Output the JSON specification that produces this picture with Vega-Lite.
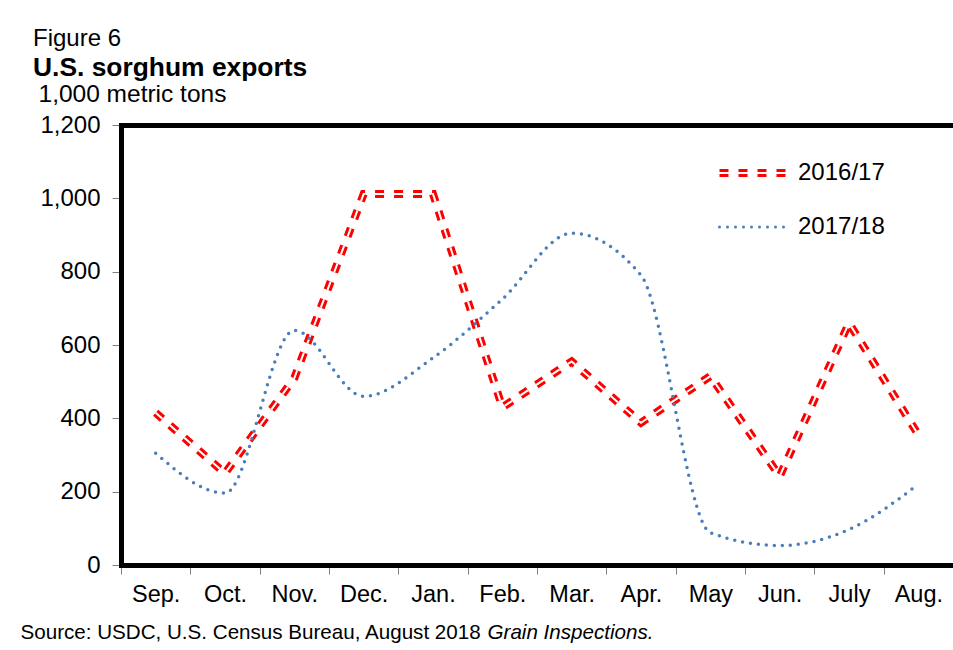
{
  "$schema": "https://vega.github.io/schema/vega-lite/v6.json",
  "width": 832,
  "height": 440,
  "autosize": "none",
  "padding": {"left": 121, "top": 125, "right": 0, "bottom": 85},
  "background": "white",
  "config": {"font": "Liberation Sans", "view": {"stroke": null}},
  "title": {
    "text": "Figure 6",
    "subtitle": "U.S. sorghum exports",
    "anchor": "start",
    "frame": "group",
    "dx": -88,
    "font": "Liberation Sans",
    "fontSize": 24,
    "fontWeight": "normal",
    "color": "black",
    "subtitleFont": "Liberation Sans",
    "subtitleFontSize": 26.4,
    "subtitleFontWeight": "bold",
    "subtitleColor": "black",
    "subtitlePadding": 4,
    "offset": 0
  },
  "data": {
    "values": [
      {"month": "Sep.", "series": "2016/17", "value": 415},
      {"month": "Oct.", "series": "2016/17", "value": 250},
      {"month": "Nov.", "series": "2016/17", "value": 510},
      {"month": "Dec.", "series": "2016/17", "value": 1012},
      {"month": "Jan.", "series": "2016/17", "value": 1012},
      {"month": "Feb.", "series": "2016/17", "value": 430},
      {"month": "Mar.", "series": "2016/17", "value": 555},
      {"month": "Apr.", "series": "2016/17", "value": 388},
      {"month": "May", "series": "2016/17", "value": 515},
      {"month": "Jun.", "series": "2016/17", "value": 242},
      {"month": "July", "series": "2016/17", "value": 660},
      {"month": "Aug.", "series": "2016/17", "value": 355},
      {"month": "Sep.", "series": "2017/18", "value": 305},
      {"month": "Oct.", "series": "2017/18", "value": 196},
      {"month": "Nov.", "series": "2017/18", "value": 640},
      {"month": "Dec.", "series": "2017/18", "value": 460},
      {"month": "Jan.", "series": "2017/18", "value": 565},
      {"month": "Feb.", "series": "2017/18", "value": 725},
      {"month": "Mar.", "series": "2017/18", "value": 905},
      {"month": "Apr.", "series": "2017/18", "value": 790},
      {"month": "May", "series": "2017/18", "value": 88},
      {"month": "Jun.", "series": "2017/18", "value": 53},
      {"month": "July", "series": "2017/18", "value": 97},
      {"month": "Aug.", "series": "2017/18", "value": 220}
    ]
  },
  "encoding": {
    "y": {
      "field": "value",
      "type": "quantitative",
      "scale": {"domain": [0, 1200], "nice": false},
      "axis": {
        "title": "1,000 metric tons",
        "titleAngle": 0,
        "titleAlign": "left",
        "titleBaseline": "alphabetic",
        "titleX": -83,
        "titleY": -24,
        "titleFont": "Liberation Sans",
        "titleFontSize": 24.5,
        "titleFontWeight": "normal",
        "titleColor": "black",
        "values": [0, 200, 400, 600, 800, 1000, 1200],
        "format": ",d",
        "labelFont": "Liberation Sans",
        "labelFontSize": 24,
        "labelColor": "black",
        "labelPadding": 12,
        "tickSize": 9,
        "tickColor": "#808080",
        "domainColor": "black",
        "domainWidth": 5,
        "domainCap": "square",
        "grid": false
      }
    }
  },
  "layer": [
    {
      "transform": [{"filter": "datum.series == '2016/17'"}],
      "mark": {"type": "line", "strokeWidth": 8, "strokeDash": [9, 10], "strokeCap": "butt"},
      "encoding": {
        "x": {
          "field": "month",
          "type": "nominal",
          "sort": ["Sep.", "Oct.", "Nov.", "Dec.", "Jan.", "Feb.", "Mar.", "Apr.", "May", "Jun.", "July", "Aug."],
          "scale": {"type": "band", "paddingInner": 0, "paddingOuter": 0},
          "bandPosition": 0.5,
          "axis": {
            "title": "Source: USDC, U.S. Census Bureau, August 2018",
            "titleX": -101,
            "titleY": 73,
            "titleAlign": "left",
            "titleBaseline": "alphabetic",
            "titleFont": "Liberation Sans",
            "titleFontSize": 20.6,
            "titleFontWeight": "normal",
            "titleColor": "black",
            "labelAngle": 0,
            "labelFont": "Liberation Sans",
            "labelFontSize": 23.5,
            "labelColor": "black",
            "labelPadding": 8,
            "tickSize": 9,
            "tickBand": "extent",
            "tickColor": "#808080",
            "domainColor": "black",
            "domainWidth": 5,
            "domainCap": "square",
            "grid": false
          }
        },
        "color": {
          "field": "series",
          "type": "nominal",
          "scale": {"domain": ["2016/17", "2017/18"], "range": ["#ff0000", "#4a7ebb"]},
          "legend": {
            "orient": "none",
            "direction": "vertical",
            "legendX": 597,
            "legendY": 10.5,
            "title": null,
            "padding": 0,
            "symbolSize": 5184,
            "symbolType": "M-1,0H1",
            "symbolStrokeWidth": 3,
            "rowPadding": 4,
            "labelFont": "Liberation Sans",
            "labelFontSize": 24,
            "labelColor": "black",
            "labelOffset": 5,
            "encode": {
              "symbols": {
                "update": {
                  "size": {"value": 5184},
                  "shape": {"signal": "datum.value === '2016/17' ? 'M-1,-0.07H1M-1,0.07H1' : 'M-1,0H1'"},
                  "strokeDash": {"signal": "datum.value === '2016/17' ? [9, 10] : [0, 8]"},
                  "strokeCap": {"signal": "datum.value === '2016/17' ? 'butt' : 'round'"},
                  "fill": {"value": "transparent"}
                }
              }
            }
          }
        }
      }
    },
    {
      "transform": [{"filter": "datum.series == '2016/17'"}],
      "mark": {"type": "line", "strokeWidth": 2, "strokeDash": [9, 10], "strokeCap": "butt", "color": "white"},
      "encoding": {
        "x": {
          "field": "month",
          "type": "nominal",
          "sort": ["Sep.", "Oct.", "Nov.", "Dec.", "Jan.", "Feb.", "Mar.", "Apr.", "May", "Jun.", "July", "Aug."],
          "scale": {"type": "band", "paddingInner": 0, "paddingOuter": 0},
          "bandPosition": 0.5,
          "axis": null
        }
      }
    },
    {
      "transform": [{"filter": "datum.series == '2017/18'"}],
      "mark": {"type": "line", "strokeWidth": 3.5, "strokeDash": [0, 8], "strokeCap": "round", "interpolate": "monotone"},
      "encoding": {
        "x": {
          "field": "month",
          "type": "nominal",
          "sort": ["Sep.", "Oct.", "Nov.", "Dec.", "Jan.", "Feb.", "Mar.", "Apr.", "May", "Jun.", "July", "Aug."],
          "scale": {"type": "band", "paddingInner": 0, "paddingOuter": 0},
          "bandPosition": 0.5,
          "axis": {
            "orient": "top",
            "title": "Grain Inspections.",
            "titleFontStyle": "italic",
            "titleX": 366,
            "titleY": 513,
            "titleAlign": "left",
            "titleBaseline": "alphabetic",
            "titleFont": "Liberation Sans",
            "titleFontSize": 20.6,
            "titleFontWeight": "normal",
            "titleColor": "black",
            "labels": false,
            "ticks": false,
            "domainColor": "black",
            "domainWidth": 5,
            "domainCap": "square",
            "grid": false
          }
        },
        "color": {
          "field": "series",
          "type": "nominal",
          "scale": {"domain": ["2016/17", "2017/18"], "range": ["#ff0000", "#4a7ebb"]}
        }
      }
    }
  ],
  "resolve": {"axis": {"x": "independent"}}
}
